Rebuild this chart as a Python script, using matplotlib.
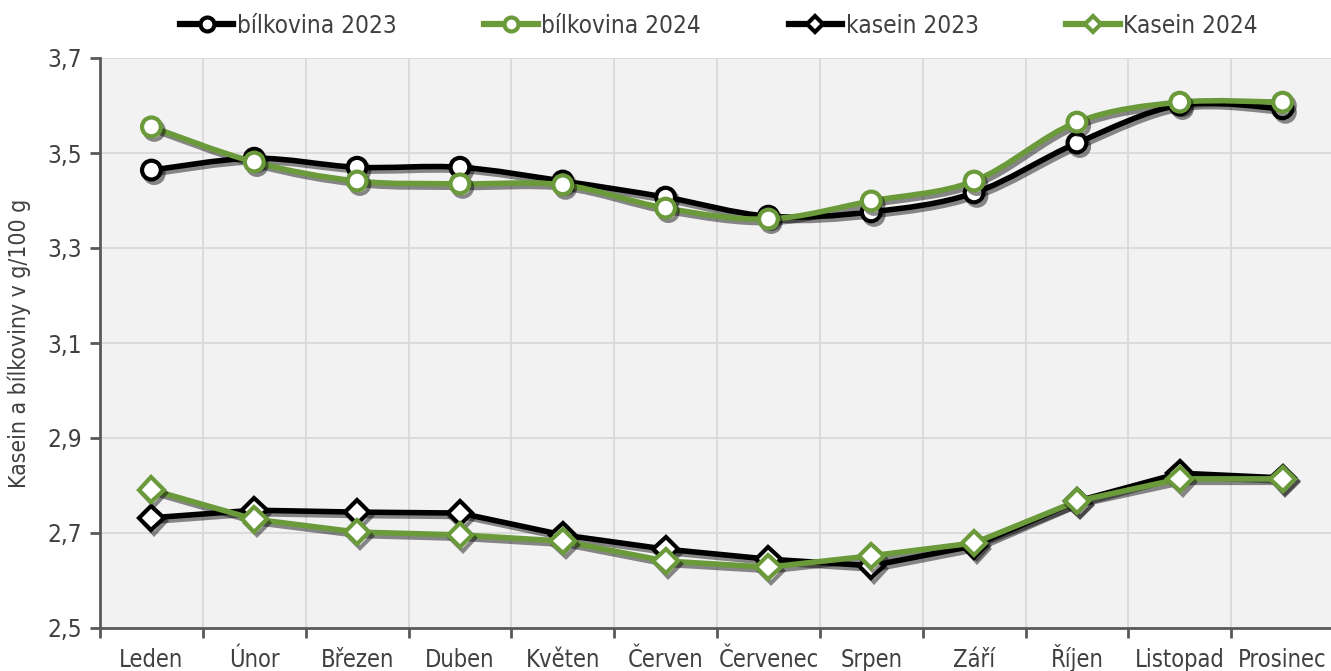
import matplotlib
matplotlib.use("Agg")
import matplotlib.pyplot as plt
import numpy as np
from matplotlib.path import Path
from matplotlib.patches import PathPatch
from matplotlib.lines import Line2D
import matplotlib.patheffects as pe
from matplotlib import font_manager as fm

months = ["Leden", "Únor", "Březen", "Duben", "Květen", "Červen", "Červenec",
          "Srpen", "Září", "Říjen", "Listopad", "Prosinec"]
bilkovina_2023 = [3.464, 3.489, 3.470, 3.470, 3.441, 3.407, 3.367, 3.376, 3.416, 3.521, 3.601, 3.593]
bilkovina_2024 = [3.555, 3.481, 3.441, 3.435, 3.433, 3.384, 3.361, 3.399, 3.441, 3.565, 3.607, 3.607]
kasein_2023 = [2.732, 2.748, 2.744, 2.742, 2.696, 2.666, 2.645, 2.631, 2.673, 2.767, 2.826, 2.816]
kasein_2024 = [2.791, 2.729, 2.702, 2.696, 2.683, 2.641, 2.628, 2.652, 2.679, 2.767, 2.814, 2.814]
yticks = [2.5, 2.7, 2.9, 3.1, 3.3, 3.5, 3.7]
ytick_labels = ["2,5", "2,7", "2,9", "3,1", "3,3", "3,5", "3,7"]

GREEN = "#6a9a3a"
BLACK = "#000000"
TXT = "#404040"

# condensed font if available
cond = [f.fname for f in fm.fontManager.ttflist if "Condensed" in f.fname and "DejaVuSans" in f.fname
        and "Bold" not in f.fname and "Oblique" not in f.fname]
if cond:
    fp = fm.FontProperties(fname=cond[0])
else:
    fp = fm.FontProperties(family="DejaVu Sans", stretch="condensed")


def F(size):
    p = fp.copy()
    p.set_size(size)
    return p

fig = plt.figure(figsize=(13.31, 6.71), dpi=100)
ax = fig.add_axes([100/1331, 1-628/671, 1234/1331, (628-58)/671])
ax.set_facecolor("#f2f2f2")

x = np.arange(len(months))

shadow = [pe.SimpleLineShadow(offset=(2, -2.5), shadow_color="k", alpha=0.45), pe.Normal()]


def smooth_path(xs, ys, t=1/6):
    xs = np.asarray(xs, float); ys = np.asarray(ys, float)
    n = len(xs)
    verts = [(xs[0], ys[0])]
    codes = [Path.MOVETO]
    for i in range(n - 1):
        p0 = (xs[max(i-1, 0)], ys[max(i-1, 0)])
        p1 = (xs[i], ys[i])
        p2 = (xs[i+1], ys[i+1])
        p3 = (xs[min(i+2, n-1)], ys[min(i+2, n-1)])
        c1 = (p1[0] + (p2[0]-p0[0])*t, p1[1] + (p2[1]-p0[1])*t)
        c2 = (p2[0] - (p3[0]-p1[0])*t, p2[1] - (p3[1]-p1[1])*t)
        verts += [c1, c2, p2]
        codes += [Path.CURVE4]*3
    return Path(verts, codes)


def draw_series(ys, color, marker, ms, smooth, z):
    if smooth:
        patch = PathPatch(smooth_path(x, ys), facecolor="none", edgecolor=color,
                          lw=4.0, zorder=z, capstyle="round", joinstyle="round")
        patch.set_path_effects(shadow)
        ax.add_patch(patch)
    else:
        ax.plot(x, ys, color=color, lw=4.0, zorder=z, solid_joinstyle="round",
                path_effects=shadow)
    ax.plot(x, ys, ls="none", marker=marker, ms=ms, mfc="white", mec=color,
            mew=3.0, zorder=z+0.5, path_effects=shadow)

draw_series(bilkovina_2023, BLACK, "o", 13.5, True, 3)
draw_series(bilkovina_2024, GREEN, "o", 13.5, True, 4)
draw_series(kasein_2023, BLACK, "D", 12.5, False, 3)
draw_series(kasein_2024, GREEN, "D", 12.5, False, 4)

ax.set_xlim(-0.5, 11.5)
ax.set_ylim(2.5, 3.7)
ax.set_yticks(yticks)
ax.set_yticklabels(ytick_labels, fontproperties=F(17.5), color=TXT)
ax.set_xticks(x)
ax.set_xticklabels(months, fontproperties=F(17), color=TXT, va="baseline")
ax.set_xticks(np.arange(-0.5, 12, 1), minor=True)
ax.tick_params(axis="x", which="major", length=0, pad=28)
ax.tick_params(axis="x", which="minor", length=7, width=2, color="#595959")
ax.tick_params(axis="y", length=7, width=2, color="#595959", pad=6)
ax.grid(axis="y", which="major", color="#d9d9d9", lw=1.3, zorder=0)
ax.grid(axis="x", which="minor", color="#d9d9d9", lw=1.3, zorder=0)
ax.set_axisbelow(True)
for s in ["top", "right"]:
    ax.spines[s].set_visible(False)
for s in ["left", "bottom"]:
    ax.spines[s].set_color("#595959")
    ax.spines[s].set_linewidth(2)

ax.set_ylabel("Kasein a bílkoviny v g/100 g", fontproperties=F(16.5), color=TXT, labelpad=12)

handles = [
    Line2D([], [], color=BLACK, lw=4.5, marker="o", ms=10, mfc="white", mec=BLACK, mew=3),
    Line2D([], [], color=GREEN, lw=4.5, marker="o", ms=10, mfc="white", mec=GREEN, mew=3),
    Line2D([], [], color=BLACK, lw=4.5, marker="D", ms=8, mfc="white", mec=BLACK, mew=3),
    Line2D([], [], color=GREEN, lw=4.5, marker="D", ms=8, mfc="white", mec=GREEN, mew=3),
]
labels = ["bílkovina 2023", "bílkovina 2024", "kasein 2023", "Kasein 2024"]
leg = fig.legend(handles, labels, loc="center", bbox_to_anchor=(719/1331, 1-26/671),
                 ncol=4, frameon=False, prop=F(17.5), handlelength=2.2, handletextpad=0.15,
                 columnspacing=3.6)
for t in leg.get_texts():
    t.set_color(TXT)

fig.savefig("out.png", dpi=100)
